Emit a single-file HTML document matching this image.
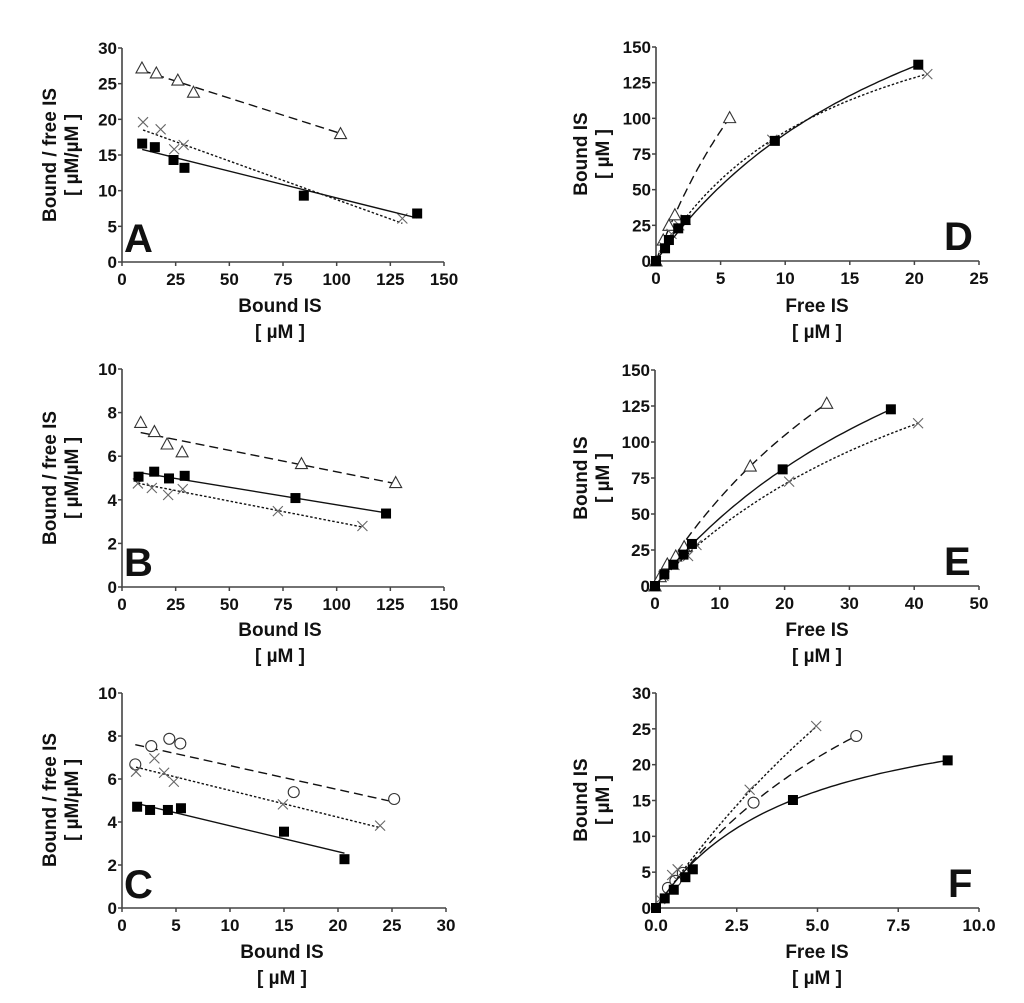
<!DOCTYPE html>
<html><head><meta charset="utf-8"><style>
body{margin:0;background:#fff}
svg text{font-family:"Liberation Sans",Arial,sans-serif;font-weight:bold;fill:#111}
</style></head><body>
<svg id="fig" width="1024" height="998" viewBox="0 0 1024 998" xmlns="http://www.w3.org/2000/svg">
<g font-size="19">
<text transform="translate(56,155) rotate(-90)" text-anchor="middle">Bound / free IS</text>
<text transform="translate(78,155) rotate(-90)" text-anchor="middle">[ µM/µM ]</text>
<text x="280" y="312" text-anchor="middle">Bound IS</text>
<text x="280" y="338" text-anchor="middle">[ µM ]</text>
<text transform="translate(56,478) rotate(-90)" text-anchor="middle">Bound / free IS</text>
<text transform="translate(78,478) rotate(-90)" text-anchor="middle">[ µM/µM ]</text>
<text x="280" y="636" text-anchor="middle">Bound IS</text>
<text x="280" y="662" text-anchor="middle">[ µM ]</text>
<text transform="translate(56,800) rotate(-90)" text-anchor="middle">Bound / free IS</text>
<text transform="translate(78,800) rotate(-90)" text-anchor="middle">[ µM/µM ]</text>
<text x="282" y="958" text-anchor="middle">Bound IS</text>
<text x="282" y="984" text-anchor="middle">[ µM ]</text>
<text transform="translate(587,154) rotate(-90)" text-anchor="middle">Bound IS</text>
<text transform="translate(609,154) rotate(-90)" text-anchor="middle">[ µM ]</text>
<text x="817" y="312" text-anchor="middle">Free IS</text>
<text x="817" y="338" text-anchor="middle">[ µM ]</text>
<text transform="translate(587,478) rotate(-90)" text-anchor="middle">Bound IS</text>
<text transform="translate(609,478) rotate(-90)" text-anchor="middle">[ µM ]</text>
<text x="817" y="636" text-anchor="middle">Free IS</text>
<text x="817" y="662" text-anchor="middle">[ µM ]</text>
<text transform="translate(587,800) rotate(-90)" text-anchor="middle">Bound IS</text>
<text transform="translate(609,800) rotate(-90)" text-anchor="middle">[ µM ]</text>
<text x="817" y="958" text-anchor="middle">Free IS</text>
<text x="817" y="984" text-anchor="middle">[ µM ]</text>
</g>
<g font-size="40" style="font-weight:900">
<text x="124" y="252">A</text>
<text x="124" y="576">B</text>
<text x="124" y="898">C</text>
<text x="944" y="250">D</text>
<text x="944" y="575">E</text>
<text x="948" y="897">F</text>
</g>
</svg>
<script>
// ---- Panel A (Scatchard) ----
const A_xTicks=[0,25,50,75,100,125,150];
const A_yTicks=[0,5,10,15,20,25,30];
const A_tri_x=[9.3,16,26,33.3,101.8];
const A_tri_y=[27.2,26.5,25.5,23.8,18.0];
const A_tri_fit=[-0.0957,27.76];
const A_cross_x=[9.8,18,24.3,28.7,130.6];
const A_cross_y=[19.6,18.6,15.8,16.4,6.1];
const A_cross_fit=[-0.1083,19.57];
const A_sq_x=[9.4,15.3,24,29.1,84.7,137.5];
const A_sq_y=[16.6,16.1,14.3,13.2,9.3,6.8];
const A_sq_fit=[-0.075,16.48];
// ---- Panel B ----
const B_xTicks=[0,25,50,75,100,125,150];
const B_yTicks=[0,2,4,6,8,10];
const B_tri_x=[8.7,15.1,21,28,83.6,127.5];
const B_tri_y=[7.55,7.13,6.56,6.2,5.66,4.79];
const B_tri_fit=[-0.01975,7.258];
const B_sq_x=[7.7,15,21.9,29.2,80.8,123];
const B_sq_y=[5.06,5.29,4.98,5.1,4.08,3.37];
const B_sq_fit=[-0.01609,5.379];
const B_cross_x=[7.4,13.9,21.5,28.3,72.6,112];
const B_cross_y=[4.75,4.54,4.22,4.49,3.48,2.8];
const B_cross_fit=[-0.01923,4.904];
// ---- Panel C ----
const C_xTicks=[0,5,10,15,20,25,30];
const C_yTicks=[0,2,4,6,8,10];
const C_circ_x=[1.23,2.71,4.38,5.4,15.9,25.2];
const C_circ_y=[6.68,7.53,7.87,7.65,5.39,5.07];
const C_circ_fit=[-0.1113,7.734];
const C_cross_x=[1.3,3.0,3.9,4.8,14.9,23.9];
const C_cross_y=[6.34,6.96,6.29,5.87,4.82,3.83];
const C_cross_fit=[-0.1245,6.712];
const C_sq_x=[1.4,2.6,4.25,5.46,15,20.6];
const C_sq_y=[4.71,4.56,4.56,4.64,3.55,2.27];
const C_sq_fit=[-0.1201,5.024];
// ---- Panel D (saturation) fits: [Bmax, Kd] ----
const D_xTicks=[0,5,10,15,20,25];
const D_yTicks=[0,25,50,75,100,125,150];
const D_tri_x=[0,0.56,1.0,1.46,5.7];
const D_tri_y=[0,14.7,25,32.4,100.5];
const D_tri_fit=[363,14.9];
const D_sq_x=[0,0.7,1.0,1.72,2.28,9.2,20.3];
const D_sq_y=[0,8.9,14.7,22.9,28.7,84.2,137.6];
const D_sq_fit=[292,22.8];
const D_cross_x=[0,0.6,1.2,1.8,2.3,9,21];
const D_cross_y=[0,10,19,25,29,85,131];
const D_cross_fit=[221,14.4];
// ---- Panel E ----
const E_xTicks=[0,10,20,30,40,50];
const E_yTicks=[0,25,50,75,100,125,150];
const E_tri_x=[0,0.8,1.9,3.2,4.5,14.7,26.5];
const E_tri_y=[0,6.5,15.3,20.8,27.3,83.3,126.9];
const E_tri_fit=[364,49.6];
const E_sq_x=[0,1.44,2.83,4.4,5.7,19.7,36.4];
const E_sq_y=[0,8.1,14.8,21.8,29.2,81,122.7];
const E_sq_fit=[312,56.2];
const E_cross_x=[0,1.3,3,5.1,6.4,20.7,40.6];
const E_cross_y=[0,7,14.6,20.8,28.5,72.5,113];
const E_cross_fit=[269.6,56.3];
// ---- Panel F ----
const F_xTicks=[0,2.5,5,7.5,10];
const F_xTickLabels=["0.0","2.5","5.0","7.5","10.0"];
const F_yTicks=[0,5,10,15,20,25,30];
const F_sq_x=[0,0.27,0.55,0.91,1.14,4.24,9.03];
const F_sq_y=[0,1.34,2.55,4.3,5.4,15.07,20.6];
const F_sq_fit=[30.5,4.34];
const F_circ_x=[0.37,0.6,0.83,3.02,6.2];
const F_circ_y=[2.8,3.8,4.9,14.7,24.0];
const F_circ_fit=[60.2,9.34];
const F_cross_x=[0.13,0.5,0.67,2.9,4.96];
const F_cross_y=[1.25,4.6,5.4,16.5,25.4];
const F_cross_fit=[113.5,17.3];

const NS="http://www.w3.org/2000/svg";
const svg=document.getElementById('fig');
function mk(tag,attrs,parent){const e=document.createElementNS(NS,tag);for(const k in attrs)e.setAttribute(k,attrs[k]);(parent||svg).appendChild(e);return e;}

function panel(id,box,xd,yd,xTicks,yTicks,xLabels,series){
  const g=mk('g',{});
  
  
  const sx=v=>box.x0+(v-xd[0])/(xd[1]-xd[0])*(box.x1-box.x0);
  const sy=v=>box.y0-(v-yd[0])/(yd[1]-yd[0])*(box.y0-box.y1);
  const ax=mk('path',{d:`M${box.x0},${box.y1}V${box.y0}H${box.x1}`,stroke:'#444','stroke-width':1.6,fill:'none'},g);
  
  
  xTicks.forEach((t,i)=>{
    const X=sx(t);
    mk('line',{x1:X,x2:X,y1:box.y0,y2:box.y0+4,stroke:'#444','stroke-width':1.5},g);
    const tx=mk('text',{x:X,y:box.y0+23,'text-anchor':'middle','font-size':17},g);
    tx.textContent=xLabels?xLabels[i]:String(t);
    
    
  });
  yTicks.forEach(t=>{
    const Y=sy(t);
    mk('line',{x1:box.x0-4,x2:box.x0,y1:Y,y2:Y,stroke:'#444','stroke-width':1.5},g);
    const tx=mk('text',{x:box.x0-5,y:Y+6,'text-anchor':'end','font-size':17},g);
    tx.textContent=String(t);
    
    
  });
  series.forEach(s=>{
    const lo=Math.min(...s.x), hi=Math.max(...s.x);
    let d='';
    if(s.kind==='lin'){
      d=`M${sx(lo)},${sy(s.fit[0]*lo+s.fit[1])}L${sx(hi)},${sy(s.fit[0]*hi+s.fit[1])}`;
    } else {
      const N=60;
      for(let i=0;i<=N;i++){const f=hi*i/N;const b=s.fit[0]*f/(s.fit[1]+f);d+=(i?'L':'M')+sx(f).toFixed(1)+','+sy(b).toFixed(1);}
    }
    const dash=s.style==='dash'?'9,5':s.style==='dot'?'2.5,2':'none';
    const ln=mk('path',{d:d,fill:'none',stroke:'#111','stroke-width':1.4,'stroke-dasharray':dash},g);
    
    
    s.x.forEach((xv,i)=>{
      const X=sx(xv),Y=sy(s.y[i]);let m;
      if(s.marker==='sq') m=mk('rect',{x:X-5,y:Y-5,width:10,height:10,fill:'#000'},g);
      else if(s.marker==='tri') m=mk('path',{d:`M${X},${Y-6}L${X+6},${Y+5}L${X-6},${Y+5}Z`,fill:'#fff',stroke:'#333','stroke-width':1.1},g);
      else if(s.marker==='circ') m=mk('circle',{cx:X,cy:Y,r:5.5,fill:'#fff',stroke:'#333','stroke-width':1.1},g);
      else m=mk('path',{d:`M${X-5},${Y-5}L${X+5},${Y+5}M${X-5},${Y+5}L${X+5},${Y-5}`,stroke:'#666','stroke-width':1.1,fill:'none'},g);
      
      
    });
  });
}

panel('a',{x0:122,x1:444,y0:262,y1:48},[0,150],[0,30],A_xTicks,A_yTicks,null,[
 {name:'triangle',x:A_tri_x,y:A_tri_y,fit:A_tri_fit,kind:'lin',style:'dash',marker:'tri'},
 {name:'cross',x:A_cross_x,y:A_cross_y,fit:A_cross_fit,kind:'lin',style:'dot',marker:'x'},
 {name:'square',x:A_sq_x,y:A_sq_y,fit:A_sq_fit,kind:'lin',style:'solid',marker:'sq'}]);
panel('b',{x0:122,x1:444,y0:587,y1:369},[0,150],[0,10],B_xTicks,B_yTicks,null,[
 {name:'triangle',x:B_tri_x,y:B_tri_y,fit:B_tri_fit,kind:'lin',style:'dash',marker:'tri'},
 {name:'cross',x:B_cross_x,y:B_cross_y,fit:B_cross_fit,kind:'lin',style:'dot',marker:'x'},
 {name:'square',x:B_sq_x,y:B_sq_y,fit:B_sq_fit,kind:'lin',style:'solid',marker:'sq'}]);
panel('c',{x0:122,x1:446,y0:908,y1:693},[0,30],[0,10],C_xTicks,C_yTicks,null,[
 {name:'circle',x:C_circ_x,y:C_circ_y,fit:C_circ_fit,kind:'lin',style:'dash',marker:'circ'},
 {name:'cross',x:C_cross_x,y:C_cross_y,fit:C_cross_fit,kind:'lin',style:'dot',marker:'x'},
 {name:'square',x:C_sq_x,y:C_sq_y,fit:C_sq_fit,kind:'lin',style:'solid',marker:'sq'}]);
panel('d',{x0:656,x1:979,y0:261,y1:47},[0,25],[0,150],D_xTicks,D_yTicks,null,[
 {name:'triangle',x:D_tri_x,y:D_tri_y,fit:D_tri_fit,kind:'hyp',style:'dash',marker:'tri'},
 {name:'cross',x:D_cross_x,y:D_cross_y,fit:D_cross_fit,kind:'hyp',style:'dot',marker:'x'},
 {name:'square',x:D_sq_x,y:D_sq_y,fit:D_sq_fit,kind:'hyp',style:'solid',marker:'sq'}]);
panel('e',{x0:655,x1:979,y0:586,y1:370},[0,50],[0,150],E_xTicks,E_yTicks,null,[
 {name:'triangle',x:E_tri_x,y:E_tri_y,fit:E_tri_fit,kind:'hyp',style:'dash',marker:'tri'},
 {name:'cross',x:E_cross_x,y:E_cross_y,fit:E_cross_fit,kind:'hyp',style:'dot',marker:'x'},
 {name:'square',x:E_sq_x,y:E_sq_y,fit:E_sq_fit,kind:'hyp',style:'solid',marker:'sq'}]);
panel('f',{x0:656,x1:979,y0:908,y1:693},[0,10],[0,30],F_xTicks,F_yTicks,F_xTickLabels,[
 {name:'circle',x:F_circ_x,y:F_circ_y,fit:F_circ_fit,kind:'hyp',style:'dash',marker:'circ'},
 {name:'cross',x:F_cross_x,y:F_cross_y,fit:F_cross_fit,kind:'hyp',style:'dot',marker:'x'},
 {name:'square',x:F_sq_x,y:F_sq_y,fit:F_sq_fit,kind:'hyp',style:'solid',marker:'sq'}]);
</script>
</body></html>
